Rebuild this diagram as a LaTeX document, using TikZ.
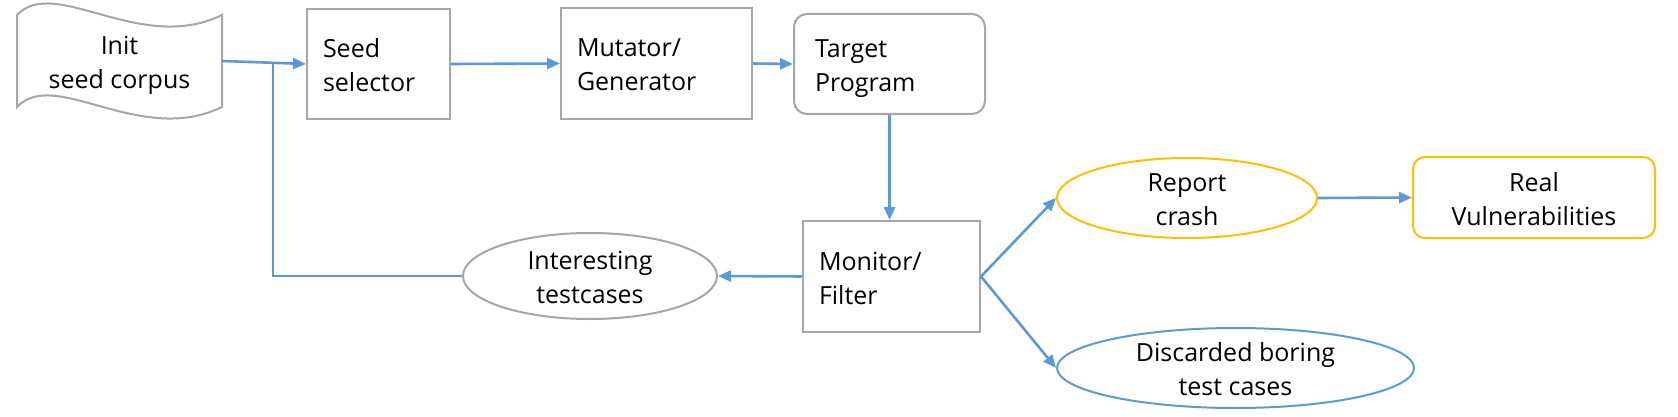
\documentclass[tikz,border=0pt]{standalone}
\usepackage{fontspec}
\setmainfont{Open Sans}
\usetikzlibrary{shapes.geometric,arrows.meta}
\definecolor{flowblue}{HTML}{5B9BD5}
\definecolor{edgegray}{HTML}{A6A6A6}
\definecolor{warnyellow}{HTML}{FFC000}
\newcommand\boxtxt[3]{\makebox[#1][l]{\raisebox{6.5pt}[0pt][0pt]{\begin{tabular}[t]{@{}l@{}}#2\\#3\end{tabular}}}}
\newcommand\ctrtxt[2]{\raisebox{6.5pt}[0pt][0pt]{\begin{tabular}[t]{@{}c@{}}#1\\#2\end{tabular}}}
\begin{document}
\begin{tikzpicture}[x=1pt,y=-1pt,
  every node/.style={font=\fontsize{25}{34}\selectfont, inner sep=0pt},
  procbox/.style={draw=edgegray, line width=2pt, rectangle, fill=white},
  roundbox/.style={procbox, rounded corners=13pt},
  grayell/.style={draw=edgegray, line width=2pt, ellipse, fill=white},
  yellell/.style={draw=warnyellow, line width=2pt, ellipse, fill=white},
  blueell/.style={draw=flowblue, line width=2pt, ellipse, fill=white},
  yellbox/.style={draw=warnyellow, line width=2pt, rectangle, rounded corners=12pt, fill=white},
  flow/.style={draw=flowblue, line width=2.6pt, -{Triangle[length=13pt,width=11pt]}},
  flowline/.style={draw=flowblue, line width=2.6pt}
]
\useasboundingbox (0,0) rectangle (1678,417);

% Init seed corpus (tape shape)
\draw[edgegray, line width=2pt, fill=white]
  (17,15) .. controls (55,-25) and (140,55) .. (222,15)
  -- (222,107) .. controls (140,147) and (55,67) .. (17,107) -- cycle;
\node (init) [minimum width=205pt, minimum height=92pt] at (119.5,61) {\ctrtxt{Init}{seed corpus}};

\node (seed) [procbox, minimum width=143pt, minimum height=110pt] at (378.5,64) {\boxtxt{111pt}{Seed}{selector}};
\node (mut) [procbox, minimum width=191pt, minimum height=111pt] at (656.5,63.5) {\boxtxt{159pt}{Mutator/}{Generator}};
\node (tgt) [roundbox, minimum width=191pt, minimum height=100pt] at (889.5,64) {\boxtxt{149pt}{Target}{Program}};
\node (mon) [procbox, minimum width=177pt, minimum height=111pt] at (891.5,276.5) {\boxtxt{145pt}{Monitor/}{Filter}};
\node (intr) [grayell, minimum width=254pt, minimum height=86pt] at (590,276) {\ctrtxt{Interesting}{testcases}};
\node (rep) [yellell, minimum width=260pt, minimum height=80pt] at (1187,198) {\ctrtxt{Report}{crash}};
\node (real) [yellbox, minimum width=242pt, minimum height=81pt] at (1534,197.5) {\ctrtxt{Real}{Vulnerabilities}};
\node (dis) [blueell, minimum width=357pt, minimum height=80pt] at (1235.5,368) {\ctrtxt{Discarded boring}{test cases}};

\coordinate (join) at (273,62.6);

\draw[flow] (init.east) -- (seed.west);
\draw[flow] (seed.east) -- (mut.west);
\draw[flow] (mut.east) -- (tgt.west);
\draw[flow] (tgt.south) -- (tgt.south |- mon.north);
\draw[flow] (mon.west) -- (intr.east);
\draw[flowline] (intr.west) -- (intr.west -| join) -- (join);
\draw[flow] (mon.east) -- (rep.west);
\draw[flow] (mon.east) -- (dis.west);
\draw[flow] (rep.east) -- (real.west);
\end{tikzpicture}
\end{document}
